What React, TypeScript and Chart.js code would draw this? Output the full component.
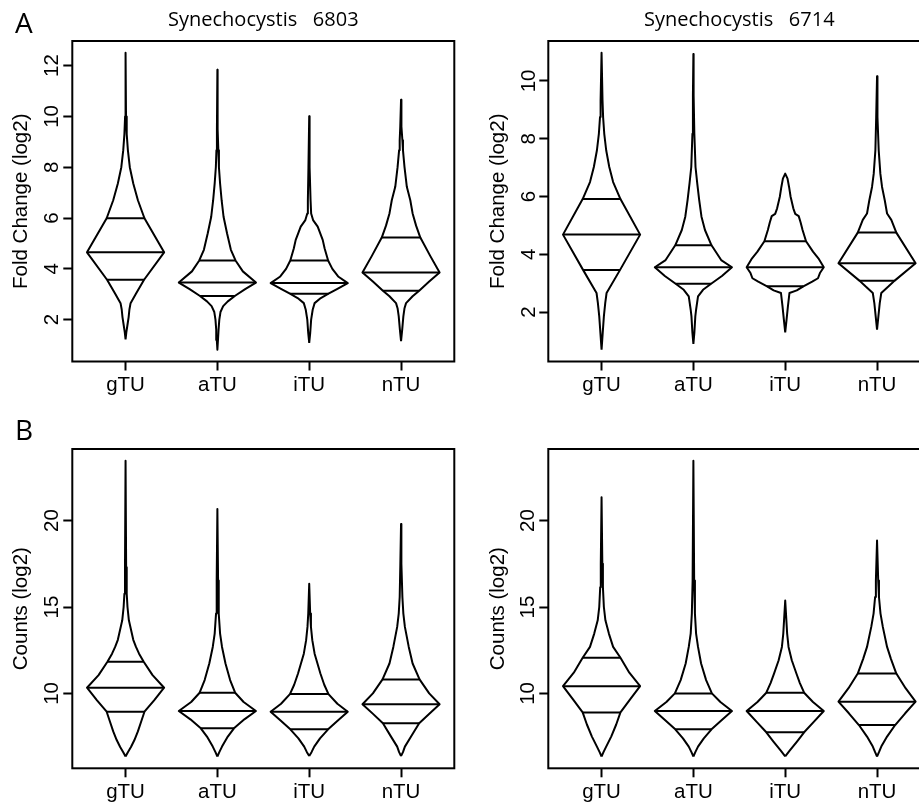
import React, { useEffect, useRef } from 'react';
import { Chart, registerables } from 'chart.js';

Chart.register(...registerables);

// ---------- text ----------
const CATEGORIES = ['gTU', 'aTU', 'iTU', 'nTU'];
const TITLE_6803 = 'Synechocystis   6803';
const TITLE_6714 = 'Synechocystis   6714';
const FC_AXIS_TITLE = 'Fold Change (log2)';
const COUNTS_AXIS_TITLE = 'Counts (log2)';
const FC_TICK_STEP = 2;
const COUNTS_TICK_STEP = 5;

// ---------- bean outlines: levels (y) and relative half-widths (w) ----------
// Fold change, Synechocystis 6803
const FC6803_gTU_y = [1.22, 1.5, 1.8, 2.1, 2.4, 2.65, 3.05, 3.57, 4.65, 5.99, 6.7, 7.36, 8.0, 8.67, 9.3, 10.0, 12.5];
const FC6803_gTU_w = [0, 0.02, 0.05, 0.08, 0.1, 0.13, 0.28, 0.48, 1, 0.49, 0.32, 0.2, 0.11, 0.06, 0.03, 0.012, 0];
const FC6803_aTU_y = [0.82, 1.2, 1.6, 2.0, 2.3, 2.53, 2.72, 2.94, 3.2, 3.46, 3.9, 4.33, 4.75, 5.4, 6.05, 6.7, 7.36, 8.0, 8.67, 9.5, 11.84];
const FC6803_aTU_w = [0, 0.015, 0.03, 0.05, 0.08, 0.15, 0.27, 0.46, 0.72, 1, 0.66, 0.47, 0.35, 0.25, 0.16, 0.11, 0.07, 0.04, 0.025, 0.012, 0];
const FC6803_iTU_y = [1.08, 1.48, 2.0, 2.39, 2.65, 2.85, 3.02, 3.2, 3.44, 3.7, 4.0, 4.33, 4.8, 5.14, 5.66, 5.92, 6.18, 6.7, 8.0, 10.01];
const FC6803_iTU_w = [0, 0.026, 0.05, 0.09, 0.14, 0.3, 0.5, 0.72, 1, 0.75, 0.6, 0.49, 0.4, 0.35, 0.22, 0.1, 0.05, 0.035, 0.02, 0];
const FC6803_nTU_y = [1.15, 1.61, 2.13, 2.45, 2.65, 2.92, 3.14, 3.5, 3.86, 4.5, 5.23, 5.7, 6.18, 6.7, 7.23, 8.0, 8.67, 9.06, 9.6, 10.65];
const FC6803_nTU_w = [0, 0.03, 0.06, 0.09, 0.13, 0.3, 0.47, 0.73, 1, 0.76, 0.5, 0.39, 0.3, 0.24, 0.15, 0.09, 0.05, 0.035, 0.02, 0];
const FC6803_Q1 = [3.57, 2.93, 3.02, 3.14];
const FC6803_MED = [4.65, 3.46, 3.44, 3.86];
const FC6803_Q3 = [5.99, 4.33, 4.33, 5.23];

// Fold change, Synechocystis 6714
const FC6714_gTU_y = [0.7, 1.28, 1.85, 2.31, 2.66, 3.46, 4.68, 5.91, 6.5, 7.02, 7.6, 8.17, 8.75, 9.32, 10.97];
const FC6714_gTU_w = [0, 0.03, 0.06, 0.095, 0.13, 0.48, 1, 0.49, 0.3, 0.2, 0.12, 0.07, 0.04, 0.025, 0];
const FC6714_aTU_y = [0.9, 1.28, 1.85, 2.08, 2.54, 2.77, 2.98, 3.25, 3.55, 3.8, 4.31, 4.84, 5.3, 5.88, 6.45, 7.02, 8.17, 9.5, 10.93];
const FC6714_aTU_w = [0, 0.025, 0.05, 0.07, 0.12, 0.25, 0.46, 0.74, 1, 0.72, 0.47, 0.3, 0.21, 0.15, 0.1, 0.055, 0.025, 0.012, 0];
const FC6714_iTU_y = [1.3, 1.74, 2.2, 2.66, 2.75, 2.89, 3.05, 3.17, 3.35, 3.55, 3.86, 4.09, 4.45, 4.84, 5.1, 5.32, 5.4, 5.59, 5.99, 6.33, 6.62, 6.79];
const FC6714_iTU_w = [0, 0.035, 0.07, 0.11, 0.3, 0.47, 0.7, 0.85, 0.9, 1, 0.86, 0.72, 0.54, 0.45, 0.4, 0.35, 0.26, 0.21, 0.14, 0.1, 0.06, 0];
const FC6714_nTU_y = [1.39, 1.85, 2.31, 2.66, 2.89, 3.08, 3.69, 4.75, 5.19, 5.41, 5.87, 6.33, 6.79, 7.6, 8.75, 10.16];
const FC6714_nTU_w = [0, 0.035, 0.07, 0.11, 0.3, 0.45, 1, 0.5, 0.37, 0.26, 0.2, 0.13, 0.086, 0.043, 0.022, 0];
const FC6714_Q1 = [3.46, 2.98, 2.89, 3.08];
const FC6714_MED = [4.68, 3.55, 3.55, 3.69];
const FC6714_Q3 = [5.91, 4.31, 4.45, 4.75];

// Counts, Synechocystis 6803
const CT6803_gTU_y = [6.35, 6.6, 6.9, 7.3, 7.8, 8.4, 8.94, 9.6, 10.33, 11.06, 11.83, 12.3, 12.69, 13.1, 14.23, 15.0, 15.77, 17.3, 23.46];
const CT6803_gTU_w = [0, 0.06, 0.14, 0.23, 0.32, 0.41, 0.49, 0.74, 1, 0.7, 0.47, 0.35, 0.27, 0.2, 0.086, 0.05, 0.03, 0.015, 0];
const CT6803_aTU_y = [6.35, 6.6, 6.92, 7.5, 7.98, 8.5, 8.98, 9.5, 10.04, 10.77, 11.73, 12.69, 13.46, 14.62, 16.54, 20.67];
const CT6803_aTU_w = [0, 0.05, 0.12, 0.27, 0.43, 0.7, 1, 0.68, 0.46, 0.33, 0.21, 0.12, 0.07, 0.035, 0.018, 0];
const CT6803_iTU_y = [6.38, 6.6, 6.92, 7.4, 7.92, 8.45, 8.94, 9.4, 9.96, 10.5, 11.15, 12.3, 13.08, 13.85, 14.62, 16.35];
const CT6803_iTU_w = [0, 0.06, 0.13, 0.28, 0.49, 0.75, 1, 0.73, 0.5, 0.39, 0.29, 0.14, 0.08, 0.045, 0.025, 0];
const CT6803_nTU_y = [6.38, 6.6, 6.92, 7.5, 8.27, 8.8, 9.37, 10.0, 10.81, 11.73, 12.69, 13.85, 14.62, 15.58, 17.5, 19.81];
const CT6803_nTU_w = [0, 0.05, 0.1, 0.26, 0.47, 0.72, 1, 0.73, 0.48, 0.3, 0.2, 0.1, 0.06, 0.035, 0.018, 0];
const CT6803_Q1 = [8.94, 7.98, 7.92, 8.27];
const CT6803_MED = [10.33, 8.98, 8.94, 9.37];
const CT6803_Q3 = [11.83, 10.04, 9.96, 10.81];

// Counts, Synechocystis 6714
const CT6714_gTU_y = [6.35, 6.6, 6.92, 7.5, 8.2, 8.9, 9.65, 10.42, 11.2, 12.06, 12.69, 13.46, 14.23, 15.0, 16.15, 17.5, 21.35];
const CT6714_gTU_w = [0, 0.05, 0.12, 0.25, 0.38, 0.49, 0.74, 1, 0.72, 0.49, 0.3, 0.19, 0.1, 0.06, 0.035, 0.02, 0];
const CT6714_aTU_y = [6.35, 6.6, 6.92, 7.4, 7.92, 8.45, 8.98, 9.5, 10.0, 10.77, 11.73, 12.69, 13.46, 14.62, 16.54, 23.46];
const CT6714_aTU_w = [0, 0.05, 0.12, 0.27, 0.47, 0.73, 1, 0.7, 0.48, 0.33, 0.2, 0.12, 0.07, 0.04, 0.02, 0];
const CT6714_iTU_y = [6.35, 6.7, 7.2, 7.75, 8.35, 8.98, 9.5, 10.04, 10.6, 11.15, 11.92, 12.69, 13.46, 14.23, 15.38];
const CT6714_iTU_w = [0, 0.12, 0.3, 0.49, 0.74, 1, 0.72, 0.49, 0.38, 0.29, 0.17, 0.086, 0.05, 0.03, 0];
const CT6714_nTU_y = [6.35, 6.6, 6.92, 7.5, 8.17, 8.85, 9.52, 10.3, 11.15, 12.0, 12.69, 13.85, 14.62, 15.58, 16.54, 18.85];
const CT6714_nTU_w = [0, 0.05, 0.11, 0.26, 0.47, 0.73, 1, 0.74, 0.5, 0.36, 0.26, 0.15, 0.09, 0.05, 0.03, 0];
const CT6714_Q1 = [8.9, 7.92, 7.75, 8.17];
const CT6714_MED = [10.42, 8.98, 8.98, 9.52];
const CT6714_Q3 = [12.06, 10.0, 10.04, 11.15];

// ---------- geometry / style ----------
const X_MIN = 0.42;
const X_MAX = 4.58;
const HALF_WIDTH = 0.42; // max half-width of a bean, in x units
const TICK_FONT = "'Liberation Sans', Arial, Helvetica, sans-serif";
const TITLE_FONT = "'Open Sans', 'Noto Sans', sans-serif";

type Bean = { y: number[]; w: number[] };

interface PanelSpec {
  left: number; top: number; width: number; height: number;
  beans: Bean[]; q1: number[]; med: number[]; q3: number[];
  step: number; title?: string; axisTitle: string;
  yAxisWidth: number; xAxisHeight: number; padTop: number; padRight: number;
  axisTitlePad: number; tickPadY: number;
}

function interpW(bean: Bean, v: number): number {
  const { y, w } = bean;
  for (let i = 0; i < y.length - 1; i++) {
    if (v >= y[i] && v <= y[i + 1]) {
      const t = (v - y[i]) / (y[i + 1] - y[i]);
      return w[i] + t * (w[i + 1] - w[i]);
    }
  }
  return 0;
}

const boxPlugin = {
  id: 'rbox',
  afterDraw(chart: any) {
    const { ctx, chartArea } = chart;
    ctx.save();
    ctx.strokeStyle = '#000';
    ctx.lineWidth = 2;
    ctx.strokeRect(chartArea.left, chartArea.top, chartArea.right - chartArea.left, chartArea.bottom - chartArea.top);
    ctx.restore();
  },
};

function buildConfig(p: PanelSpec): any {
  const datasets: any[] = [];
  let lo = Infinity;
  let hi = -Infinity;
  p.beans.forEach((b, i) => {
    const c = i + 1;
    lo = Math.min(lo, ...b.y);
    hi = Math.max(hi, ...b.y);
    const leftSide = b.y.map((v, k) => ({ x: c - b.w[k] * HALF_WIDTH, y: v }));
    const rightSide = b.y.map((v, k) => ({ x: c + b.w[k] * HALF_WIDTH, y: v })).reverse();
    datasets.push({
      data: [...leftSide, ...rightSide],
      showLine: true, borderColor: '#000', borderWidth: 2, pointRadius: 0,
      fill: false, tension: 0, borderJoinStyle: 'round',
    });
    [p.q1[i], p.med[i], p.q3[i]].forEach((q) => {
      const hw = interpW(b, q) * HALF_WIDTH;
      datasets.push({
        data: [{ x: c - hw, y: q }, { x: c + hw, y: q }],
        showLine: true, borderColor: '#000', borderWidth: 2, pointRadius: 0, fill: false,
      });
    });
  });
  const pad = (hi - lo) * 0.04;
  const yMin = lo - pad;
  const yMax = hi + pad;
  const yTicks: number[] = [];
  for (let v = Math.ceil(yMin / p.step) * p.step; v <= yMax; v += p.step) yTicks.push(v);
  const xTicks = CATEGORIES.map((_, i) => i + 1);
  return {
    type: 'scatter',
    data: { datasets },
    plugins: [boxPlugin],
    options: {
      responsive: false,
      maintainAspectRatio: false,
      animation: false,
      events: [],
      layout: { padding: { left: 0, right: p.padRight, top: p.padTop, bottom: 0 } },
      plugins: {
        legend: { display: false },
        tooltip: { enabled: false },
        title: {
          display: !!p.title,
          text: p.title || '',
          fullSize: false,
          color: '#000',
          font: { family: TITLE_FONT, size: 20, weight: 'normal' },
          padding: { top: 8.5, bottom: 8.5 },
        },
      },
      scales: {
        x: {
          type: 'linear',
          min: X_MIN,
          max: X_MAX,
          bounds: 'data',
          afterBuildTicks: (s: any) => { s.ticks = xTicks.map((v) => ({ value: v })); },
          afterFit: (s: any) => { s.height = p.xAxisHeight; },
          border: { display: false },
          grid: { display: true, drawOnChartArea: false, drawTicks: true, tickLength: 9, tickWidth: 2, tickColor: '#000' },
          ticks: {
            autoSkip: false,
            maxRotation: 0,
            padding: 3,
            color: '#000',
            font: { family: TICK_FONT, size: 20.5 },
            callback: (v: number) => CATEGORIES[Math.round(v) - 1] ?? '',
          },
        },
        y: {
          type: 'linear',
          min: yMin,
          max: yMax,
          bounds: 'data',
          afterBuildTicks: (s: any) => { s.ticks = yTicks.map((v) => ({ value: v })); },
          afterFit: (s: any) => { s.width = p.yAxisWidth; },
          border: { display: false },
          grid: { display: true, drawOnChartArea: false, drawTicks: true, tickLength: 9, tickWidth: 2, tickColor: '#000' },
          title: {
            display: true,
            text: p.axisTitle,
            color: '#000',
            font: { family: TICK_FONT, size: 20.5 },
            padding: { top: p.axisTitlePad, bottom: 0 },
          },
          ticks: {
            autoSkip: false,
            minRotation: 90,
            maxRotation: 90,
            crossAlign: 'center',
            padding: p.tickPadY,
            color: '#000',
            font: { family: TICK_FONT, size: 20.5 },
            callback: (v: number) => String(v),
          },
        },
      },
    },
  };
}

const PANELS: PanelSpec[] = [
  {
    left: 0, top: 0, width: 459, height: 400,
    beans: [
      { y: FC6803_gTU_y, w: FC6803_gTU_w }, { y: FC6803_aTU_y, w: FC6803_aTU_w },
      { y: FC6803_iTU_y, w: FC6803_iTU_w }, { y: FC6803_nTU_y, w: FC6803_nTU_w },
    ],
    q1: FC6803_Q1, med: FC6803_MED, q3: FC6803_Q3, step: FC_TICK_STEP,
    title: TITLE_6803, axisTitle: FC_AXIS_TITLE,
    yAxisWidth: 72.3, xAxisHeight: 38.5, padTop: 0, padRight: 4.7, axisTitlePad: 9.1, tickPadY: 0,
  },
  {
    left: 459, top: 0, width: 480, height: 400,
    beans: [
      { y: FC6714_gTU_y, w: FC6714_gTU_w }, { y: FC6714_aTU_y, w: FC6714_aTU_w },
      { y: FC6714_iTU_y, w: FC6714_iTU_w }, { y: FC6714_nTU_y, w: FC6714_nTU_w },
    ],
    q1: FC6714_Q1, med: FC6714_MED, q3: FC6714_Q3, step: FC_TICK_STEP,
    title: TITLE_6714, axisTitle: FC_AXIS_TITLE,
    yAxisWidth: 89.3, xAxisHeight: 38.5, padTop: 0, padRight: 8.7, axisTitlePad: 26.6, tickPadY: -1,
  },
  {
    left: 0, top: 400, width: 459, height: 407,
    beans: [
      { y: CT6803_gTU_y, w: CT6803_gTU_w }, { y: CT6803_aTU_y, w: CT6803_aTU_w },
      { y: CT6803_iTU_y, w: CT6803_iTU_w }, { y: CT6803_nTU_y, w: CT6803_nTU_w },
    ],
    q1: CT6803_Q1, med: CT6803_MED, q3: CT6803_Q3, step: COUNTS_TICK_STEP,
    axisTitle: COUNTS_AXIS_TITLE,
    yAxisWidth: 72.3, xAxisHeight: 38.7, padTop: 49, padRight: 4.7, axisTitlePad: 9.1, tickPadY: 0,
  },
  {
    left: 459, top: 400, width: 480, height: 407,
    beans: [
      { y: CT6714_gTU_y, w: CT6714_gTU_w }, { y: CT6714_aTU_y, w: CT6714_aTU_w },
      { y: CT6714_iTU_y, w: CT6714_iTU_w }, { y: CT6714_nTU_y, w: CT6714_nTU_w },
    ],
    q1: CT6714_Q1, med: CT6714_MED, q3: CT6714_Q3, step: COUNTS_TICK_STEP,
    axisTitle: COUNTS_AXIS_TITLE,
    yAxisWidth: 89.3, xAxisHeight: 38.7, padTop: 49, padRight: 8.7, axisTitlePad: 26.6, tickPadY: 0,
  },
];

function Panel({ spec }: { spec: PanelSpec }) {
  const ref = useRef<HTMLCanvasElement>(null);
  useEffect(() => {
    const chart = new Chart(ref.current as HTMLCanvasElement, buildConfig(spec));
    return () => chart.destroy();
  }, [spec]);
  return (
    <canvas
      ref={ref}
      width={spec.width}
      height={spec.height}
      style={{ position: 'absolute', left: spec.left, top: spec.top, width: spec.width, height: spec.height }}
    />
  );
}

const letterStyle: React.CSSProperties = {
  position: 'absolute', left: 15, fontFamily: TITLE_FONT, fontSize: 28, lineHeight: '28px', color: '#000',
};

export default function App() {
  return (
    <div style={{ position: 'absolute', left: 0, top: 0, width: 919, height: 807, overflow: 'hidden', background: '#fff' }}>
      {PANELS.map((p, i) => <Panel key={i} spec={p} />)}
      <div style={{ ...letterStyle, top: 8 }}>A</div>
      <div style={{ ...letterStyle, top: 415 }}>B</div>
    </div>
  );
}
